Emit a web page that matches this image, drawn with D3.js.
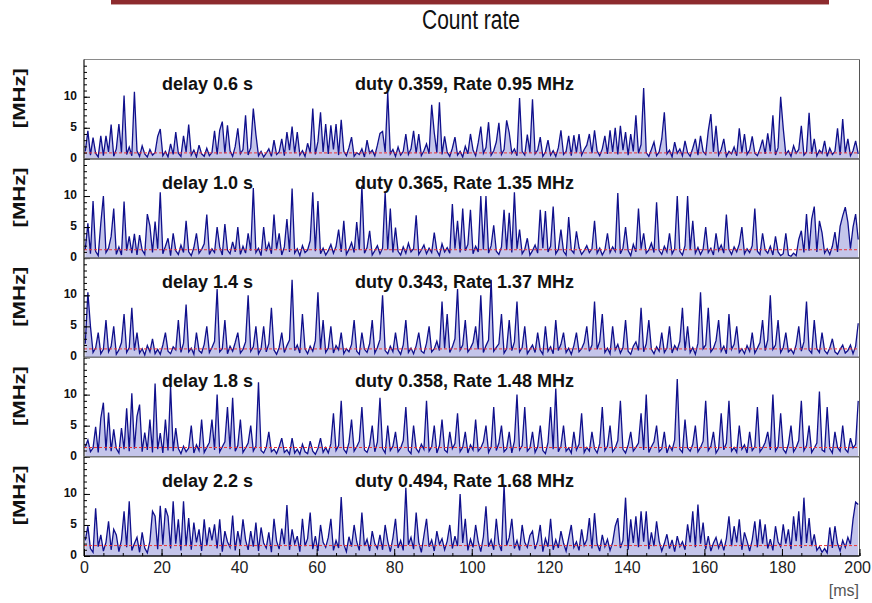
<!DOCTYPE html>
<html>
<head>
<meta charset="utf-8">
<script src="https://cdn.jsdelivr.net/npm/d3@7"></script>
<style>
  body { margin: 0; background: #fff; }
  text { font-family: "Liberation Sans", Arial, sans-serif; }
</style>
</head>
<body>
<svg id="chart" width="872" height="603"></svg>
<script>
// Panel annotations
const delays = ["delay 0.6 s", "delay 1.0 s", "delay 1.4 s", "delay 1.8 s", "delay 2.2 s"];
const duties = [0.359, 0.365, 0.343, 0.358, 0.494];
const rates  = [0.95, 1.35, 1.37, 1.48, 1.68];

// Count rate per time bin [MHz], 300 bins over 200 ms
const rate06 = [
  1.2,4.5,0.6,3.4,0.9,0.3,3.7,0.5,3.7,1.1,5.5,0.4,1.6,5.6,1.0,10.2,0.7,1.9,0.5,10.8,
  1.3,0.4,2.1,0.8,0.3,1.5,0.6,1.0,3.6,4.8,0.5,1.2,0.3,2.4,0.7,4.3,0.9,0.4,3.7,1.1,
  5.5,0.6,1.4,0.3,2.2,0.8,0.4,1.7,0.5,1.0,4.5,0.7,4.6,6.0,0.9,5.4,1.3,0.4,2.0,4.9,
  0.8,1.5,7.0,0.6,1.8,8.1,3.9,0.5,1.2,0.3,0.9,1.6,0.4,3.0,0.7,1.1,3.2,0.5,4.3,1.4,
  5.2,0.9,4.3,0.6,1.3,0.4,2.5,1.0,8.1,0.7,2.8,7.5,1.1,5.6,0.8,5.4,1.5,5.6,0.6,6.3,
  1.2,0.5,1.8,3.5,0.4,1.0,0.7,1.6,0.3,3.0,0.9,1.4,0.5,2.2,4.1,4.4,1.1,10.7,0.8,1.5,
  0.4,1.9,0.6,1.2,4.0,0.7,1.6,4.5,0.9,4.0,0.5,1.3,2.4,0.8,8.7,4.2,1.0,9.1,0.7,3.6,
  1.1,0.4,1.7,3.5,0.6,1.2,0.3,2.0,0.8,4.0,1.4,0.5,2.6,5.2,0.9,1.8,5.9,0.6,1.3,2.7,
  5.8,0.7,1.5,6.2,4.2,0.9,1.6,0.5,9.8,1.2,0.6,3.9,1.0,9.6,0.8,1.4,3.5,0.4,1.1,3.0,
  0.6,1.3,0.4,1.8,4.6,0.7,1.2,3.7,0.5,3.8,1.0,4.0,0.6,1.5,2.2,4.0,0.9,4.6,1.3,0.5,
  1.6,3.7,0.8,4.6,1.1,5.0,0.7,5.3,1.4,4.3,0.6,4.0,1.2,7.0,0.9,2.3,11.4,1.0,0.4,1.5,
  2.7,0.5,1.1,3.2,7.5,0.8,1.4,0.3,2.7,0.9,1.6,0.5,2.9,1.0,0.4,1.7,3.2,0.6,3.7,1.2,
  0.7,4.5,7.2,1.1,5.3,0.6,1.5,3.2,0.4,1.2,0.8,1.9,0.5,4.9,1.0,4.0,0.7,1.4,3.6,0.9,
  0.5,1.6,3.1,0.8,4.1,1.2,7.0,0.6,1.8,10.0,4.9,0.7,1.3,0.4,2.1,0.9,1.5,5.3,0.6,1.1,
  7.4,0.8,3.2,0.5,1.4,0.9,2.9,0.4,1.7,0.7,1.2,4.9,0.6,6.4,1.0,3.2,0.5,1.3,2.9,0.8
];
const rate10 = [
  1.4,5.6,0.7,9.2,1.1,0.4,5.6,10.0,0.9,1.6,3.5,8.0,0.6,1.8,0.5,9.1,1.2,3.5,0.8,3.9,
  0.5,3.7,1.3,0.6,7.1,5.2,0.9,5.9,1.5,10.6,0.7,1.9,3.2,0.4,4.0,1.2,0.6,2.1,0.9,6.0,
  1.0,0.4,1.7,4.0,0.8,1.4,2.3,7.0,0.6,1.5,0.9,5.0,1.8,0.5,5.5,1.3,0.7,2.6,1.0,5.0,
  0.6,1.9,0.8,4.0,1.2,11.3,0.9,1.6,0.4,5.0,1.1,2.4,0.7,7.0,1.5,4.0,0.5,1.8,6.3,1.0,
  11.2,0.8,1.5,0.4,2.0,0.9,1.3,2.8,10.6,1.1,9.2,0.7,1.6,0.5,1.2,2.2,0.8,1.9,4.6,1.0,
  6.0,0.6,1.4,2.5,0.9,5.8,1.3,11.7,0.8,1.7,4.4,0.5,1.2,2.0,0.7,1.6,10.6,1.4,8.0,0.9,
  4.9,1.1,0.5,1.8,0.8,2.4,1.0,1.5,6.9,0.6,1.3,2.1,0.7,1.6,0.9,4.1,1.2,0.4,2.3,1.0,
  1.7,0.8,8.7,1.5,6.0,0.9,8.0,1.2,2.2,7.8,0.7,1.9,1.0,10.0,1.4,10.0,0.8,2.0,5.3,1.1,
  0.6,1.8,7.8,1.3,7.3,0.9,10.6,1.5,4.6,0.7,1.4,3.2,0.5,1.2,2.1,0.8,7.8,1.6,7.6,1.0,
  1.9,8.3,0.7,1.4,4.6,1.1,0.5,6.6,1.3,0.8,4.3,1.7,0.6,1.2,2.0,0.9,1.5,6.0,0.8,1.6,
  0.5,1.3,4.0,0.9,1.8,1.1,10.5,0.7,1.6,5.0,1.2,0.4,2.2,1.0,8.0,1.5,4.0,0.8,1.3,2.4,
  0.9,9.0,1.2,0.6,1.9,1.0,4.0,0.7,1.5,10.0,1.1,0.5,2.0,10.0,1.3,6.0,0.8,1.7,0.6,1.4,
  5.0,0.9,1.6,0.5,4.0,1.2,2.1,0.8,7.0,1.4,0.6,1.8,1.0,2.3,5.0,0.7,1.5,0.9,2.0,8.0,
  1.1,0.6,4.0,1.3,0.8,1.9,0.5,3.5,1.0,0.4,0.7,4.0,0.5,0.3,0.8,0.4,3.0,4.4,0.9,7.1,
  1.2,6.3,8.3,1.0,6.0,4.1,0.8,1.5,0.6,1.9,4.2,1.0,5.1,6.8,8.2,5.8,1.5,5.0,7.1,3.0
];
const rate14 = [
  2.2,10.5,5.0,0.8,1.5,4.0,0.6,1.3,6.0,0.9,1.8,5.0,0.5,1.2,2.4,7.0,0.8,1.6,8.0,1.1,
  4.0,0.7,1.4,0.4,1.9,0.9,3.0,0.6,1.3,0.5,2.0,4.0,1.0,0.6,1.7,1.2,6.0,0.8,2.3,8.5,
  0.9,1.5,0.5,4.0,1.1,0.7,2.1,5.0,0.8,1.6,2.6,11.0,0.9,1.4,6.0,0.6,1.8,1.0,2.4,4.0,
  0.7,1.3,2.5,10.0,1.0,1.7,5.0,0.6,1.4,5.0,0.9,2.2,8.0,1.2,0.5,1.6,4.0,0.8,1.9,2.8,
  12.5,1.1,2.0,0.7,7.0,1.4,0.6,1.8,1.0,2.7,10.5,1.3,6.0,0.8,1.5,5.0,0.7,1.9,1.2,4.0,
  0.6,1.4,0.9,2.1,6.0,1.0,0.5,4.0,1.3,0.8,2.2,6.0,0.7,1.6,2.9,10.0,1.1,0.6,1.8,0.9,
  4.0,1.2,0.5,2.0,6.0,0.8,1.5,0.6,1.9,4.0,1.0,0.7,2.3,5.0,0.9,1.4,2.6,1.1,9.0,1.5,
  7.0,0.8,1.7,3.0,11.0,1.2,2.0,6.0,0.9,1.5,2.4,5.0,1.3,10.0,0.8,1.9,2.8,12.5,1.0,1.6,
  2.2,7.0,0.7,1.4,6.0,1.1,2.5,9.0,0.9,1.6,5.0,0.6,1.3,2.0,0.8,4.0,1.2,0.5,5.0,1.0,
  1.7,0.6,6.0,1.1,2.1,4.0,0.8,1.5,0.5,1.9,4.0,0.9,1.4,2.4,5.0,1.0,2.0,9.0,1.3,2.6,
  7.0,0.8,1.5,0.6,5.0,1.2,2.1,0.7,1.6,6.0,1.0,0.5,1.8,2.5,1.1,8.0,0.9,2.2,6.0,1.3,
  0.6,1.7,1.0,4.0,0.8,1.5,5.0,0.7,1.9,1.2,2.6,8.0,1.1,5.0,0.8,1.6,0.5,2.3,10.5,1.4,
  2.0,8.0,0.9,1.5,2.7,6.0,1.0,1.8,0.6,7.0,1.3,2.1,5.0,0.8,1.4,0.6,1.9,1.0,4.0,0.7,
  1.5,2.4,6.0,1.1,2.8,10.0,1.3,2.0,6.0,0.8,1.6,4.0,0.9,1.3,0.6,2.1,5.0,1.0,2.5,9.0,
  1.2,0.7,6.0,1.4,0.8,4.0,1.1,0.6,1.5,3.0,0.9,0.5,1.3,2.0,0.7,1.1,2.0,0.6,1.8,5.5
];
const rate18 = [
  1.6,2.7,0.8,1.4,4.8,0.7,6.2,8.7,1.0,7.1,0.9,4.4,1.3,0.6,4.6,1.2,7.8,0.9,10.2,1.3,
  6.5,8.4,0.8,3.9,1.1,6.0,0.7,11.8,1.2,3.8,0.6,6.0,1.0,11.3,0.9,4.6,1.3,0.5,1.7,0.8,
  1.4,5.0,0.6,1.9,1.0,6.0,0.7,1.5,2.3,6.0,1.1,10.0,0.8,1.6,2.4,8.0,1.2,9.5,0.9,1.8,
  6.0,0.7,1.4,2.2,5.0,0.9,1.7,12.0,1.0,0.6,1.5,4.0,0.8,1.2,0.5,1.6,3.0,0.7,1.1,0.4,
  3.0,0.6,1.2,0.4,2.0,0.8,0.5,2.5,0.9,0.4,1.3,3.0,0.7,1.5,0.6,2.1,7.0,1.0,1.8,9.0,
  1.2,0.6,2.3,6.0,0.9,1.6,2.5,8.0,1.1,0.7,1.9,5.0,0.8,2.4,9.5,1.3,0.6,5.0,1.0,1.7,
  4.0,0.8,1.4,2.6,8.0,1.0,0.5,5.0,1.3,0.7,2.0,1.2,9.0,0.9,1.6,5.0,0.6,1.8,6.0,1.1,
  0.7,4.0,1.3,2.1,7.0,0.8,1.5,4.0,0.6,1.9,1.1,6.0,0.9,1.4,2.4,5.0,0.7,1.6,8.0,1.0,
  2.2,5.0,0.8,1.3,4.0,0.6,2.5,10.0,1.1,1.8,8.0,0.9,1.4,4.0,0.7,1.6,5.0,1.0,0.5,2.3,
  8.0,1.2,11.0,0.8,1.7,5.0,0.9,1.4,0.6,4.0,1.1,2.0,7.0,0.7,1.5,0.9,4.0,1.3,0.6,2.1,
  8.0,1.0,1.7,5.0,0.8,1.4,2.6,9.0,1.2,0.6,1.9,4.0,0.9,1.5,2.2,7.0,1.1,10.0,0.7,1.6,
  2.4,5.0,0.8,1.3,4.0,0.6,1.8,1.0,2.7,12.5,1.2,0.7,6.0,1.4,0.9,2.0,5.0,0.8,1.5,2.5,
  9.0,1.0,1.7,4.0,0.6,1.3,7.0,1.1,2.2,9.0,0.9,1.5,0.7,5.0,1.2,1.9,0.6,4.0,1.0,1.6,
  8.0,0.8,1.4,2.3,4.0,1.1,10.0,0.9,1.6,7.0,1.2,0.6,2.0,5.0,0.8,1.5,2.6,9.0,1.0,1.8,
  5.0,0.7,1.4,2.2,10.5,1.1,0.8,8.0,1.3,0.6,4.0,1.5,0.9,5.0,1.2,0.7,3.0,1.4,2.0,9.0
];
const rate22 = [
  2.5,4.8,1.2,0.6,7.7,1.5,3.4,0.8,2.2,5.6,1.0,4.3,3.4,0.7,2.6,7.2,1.4,8.8,0.9,2.0,
  3.0,0.6,3.8,1.3,0.5,2.4,7.2,6.4,1.1,8.1,1.8,7.7,6.4,1.2,8.8,2.0,5.9,0.9,8.8,1.6,
  6.1,1.0,5.4,2.2,4.3,0.8,5.9,1.7,4.6,2.5,5.1,1.2,5.9,0.7,4.0,2.3,1.4,6.5,0.9,4.0,
  1.8,5.9,2.6,1.0,4.0,1.5,5.4,0.8,4.6,2.1,1.3,3.8,0.6,6.0,2.4,1.1,4.4,1.9,8.2,1.0,
  4.3,2.0,3.2,0.7,6.0,1.6,2.8,7.0,1.1,3.2,0.8,5.0,2.2,1.4,3.0,6.0,0.9,2.5,1.3,9.5,
  1.9,0.7,3.1,1.5,5.0,2.3,0.9,7.0,1.6,2.7,0.8,4.0,2.0,1.2,3.4,1.0,5.0,2.4,0.7,2.9,
  6.0,1.3,2.5,0.9,11.0,1.8,3.0,1.1,7.0,2.2,0.6,3.3,6.0,1.5,2.6,0.8,4.0,1.9,2.8,1.0,
  2.4,5.0,1.2,3.2,1.6,10.0,2.1,6.0,0.9,2.7,1.4,5.0,2.3,0.7,3.1,8.0,1.5,2.6,1.0,6.0,
  2.0,0.8,11.5,1.7,3.0,6.0,1.2,2.5,0.9,5.0,2.2,1.4,3.3,4.0,1.1,2.4,5.0,0.7,2.8,1.5,
  6.0,1.0,2.6,1.3,4.0,2.1,0.8,2.9,5.0,1.4,2.3,0.9,4.3,1.7,2.6,6.1,1.2,6.9,2.0,0.8,
  3.4,1.5,2.7,0.9,2.2,4.8,6.1,1.3,2.5,9.4,1.0,5.9,2.1,6.4,1.4,7.2,2.3,7.2,1.1,3.8,
  1.6,5.6,2.4,0.8,2.0,3.5,1.2,2.6,0.7,3.2,1.5,2.3,1.0,5.1,2.2,7.2,1.4,8.3,2.0,5.4,
  1.1,3.2,0.8,2.1,3.0,1.3,2.5,0.9,2.8,6.4,1.6,4.8,2.2,5.9,1.0,3.8,2.4,0.8,2.6,5.6,
  1.4,5.9,2.0,5.1,1.2,2.7,0.9,4.8,2.3,1.5,5.1,2.0,4.3,1.1,6.4,2.4,7.2,1.3,9.4,2.1,
  6.1,1.6,3.5,0.9,1.5,0.6,1.2,0.5,4.6,1.3,4.8,2.0,0.8,2.5,1.4,3.0,1.9,5.9,8.7,8.3
];
const series = [rate06, rate10, rate14, rate18, rate22];

// Axis ticks
const xTicks = [0, 20, 40, 60, 80, 100, 120, 140, 160, 180, 200];
const yTicks = [0, 5, 10];

const svg = d3.select("#chart");
const plotLeft = 84, plotRight = 859.5, plotTop = 59.5, plotBottom = 556;
const tMax = 200, yMax = 16;

// Header: dark red band and title
svg.append("rect").attr("x", 111).attr("y", 0).attr("width", 718).attr("height", 4.5)
  .attr("fill", "#8d2b2e");
svg.append("line").attr("x1", 111).attr("x2", 829).attr("y1", 4.5).attr("y2", 4.5)
  .attr("stroke", "#c9a0a0").attr("stroke-width", 1);
svg.append("text").attr("x", 471).attr("y", 29).attr("text-anchor", "middle")
  .attr("font-size", 27).attr("textLength", 98).attr("lengthAdjust", "spacingAndGlyphs")
  .attr("fill", "#111").text("Count rate");

const x = d3.scaleLinear().domain([0, tMax]).range([plotLeft, plotRight]);
const band = d3.scaleBand().domain(d3.range(series.length)).range([plotTop, plotBottom]);

series.forEach((vals, i) => {
  const top = band(i), bot = top + band.bandwidth();
  const y = d3.scaleLinear().domain([0, yMax]).range([bot, top]);
  const g = svg.append("g");
  const n = vals.length;
  const pts = vals.map((v, k) => ({ t: (k + 0.5) * tMax / n, v }));

  const clipId = "clip" + i;
  svg.append("clipPath").attr("id", clipId).append("rect")
    .attr("x", plotLeft).attr("y", top).attr("width", plotRight - plotLeft).attr("height", bot - top);

  const data = g.append("g").attr("clip-path", `url(#${clipId})`);
  data.append("path").datum(pts)
    .attr("d", d3.area().x(d => x(d.t)).y0(y(0)).y1(d => y(d.v)))
    .attr("fill", "#9c9edc").attr("fill-opacity", 0.6);
  data.append("path").datum(pts)
    .attr("d", d3.line().x(d => x(d.t)).y(d => y(d.v)))
    .attr("fill", "none").attr("stroke", "#10108c").attr("stroke-width", 1.3);

  // mean rate
  data.append("line").attr("x1", plotLeft).attr("x2", plotRight)
    .attr("y1", y(rates[i])).attr("y2", y(rates[i]))
    .attr("stroke", "#ee3333").attr("stroke-width", 1).attr("stroke-dasharray", "3,2");

  // frame
  g.append("line").attr("x1", plotLeft).attr("x2", plotRight).attr("y1", top).attr("y2", top)
    .attr("stroke", "#8a8a8a");
  g.append("line").attr("x1", plotRight).attr("x2", plotRight).attr("y1", top).attr("y2", bot)
    .attr("stroke", "#555");
  g.append("line").attr("x1", plotLeft).attr("x2", plotRight).attr("y1", bot).attr("y2", bot)
    .attr("stroke", "#111").attr("stroke-width", 1.3);
  g.append("line").attr("x1", plotLeft).attr("x2", plotLeft).attr("y1", top).attr("y2", bot)
    .attr("stroke", "#111").attr("stroke-width", 1.2);

  // y axis: minor and major ticks drawn inwards
  const minor = g.append("g").attr("transform", `translate(${plotLeft},0)`)
    .call(d3.axisLeft(y).tickValues(d3.range(0, yMax, 1)).tickSize(-3).tickFormat(""));
  minor.select(".domain").remove();
  const major = g.append("g").attr("transform", `translate(${plotLeft},0)`)
    .call(d3.axisLeft(y).tickValues(yTicks).tickSize(-6).tickPadding(7));
  major.select(".domain").remove();
  major.selectAll("text").attr("font-size", 12).attr("font-weight", "bold")
    .attr("fill", "#111").attr("dy", "0.2em");

  g.append("text")
    .attr("transform", `translate(25,${(top + bot) / 2 - 11}) rotate(-90)`)
    .attr("text-anchor", "middle").attr("font-size", 16).attr("font-weight", "bold")
    .attr("textLength", 60).attr("lengthAdjust", "spacingAndGlyphs")
    .attr("fill", "#111").text("[MHz]");

  g.append("text").attr("x", 162).attr("y", top + 30).attr("font-size", 18)
    .attr("font-weight", "bold").attr("fill", "#111").text(delays[i]);
  g.append("text").attr("x", 355).attr("y", top + 30).attr("font-size", 18)
    .attr("font-weight", "bold").attr("fill", "#111")
    .text(`duty ${duties[i].toFixed(3)}, Rate ${rates[i].toFixed(2)} MHz`);

  if (i === series.length - 1) {
    const xm = g.append("g").attr("transform", `translate(0,${bot})`)
      .call(d3.axisBottom(x).tickValues(d3.range(0, tMax + 1, 5)).tickSize(-3).tickFormat(""));
    xm.select(".domain").remove();
    const xa = g.append("g").attr("transform", `translate(0,${bot})`)
      .call(d3.axisBottom(x).tickValues(xTicks).tickSize(-7).tickPadding(6));
    xa.select(".domain").remove();
    xa.selectAll("text").attr("font-size", 16).attr("fill", "#222")
      .attr("dx", d => d === tMax ? "-0.15em" : 0);
  }
});

svg.append("text").attr("x", 859).attr("y", 596).attr("text-anchor", "end")
  .attr("font-size", 16).attr("fill", "#555").text("[ms]");
</script>
</body>
</html>
